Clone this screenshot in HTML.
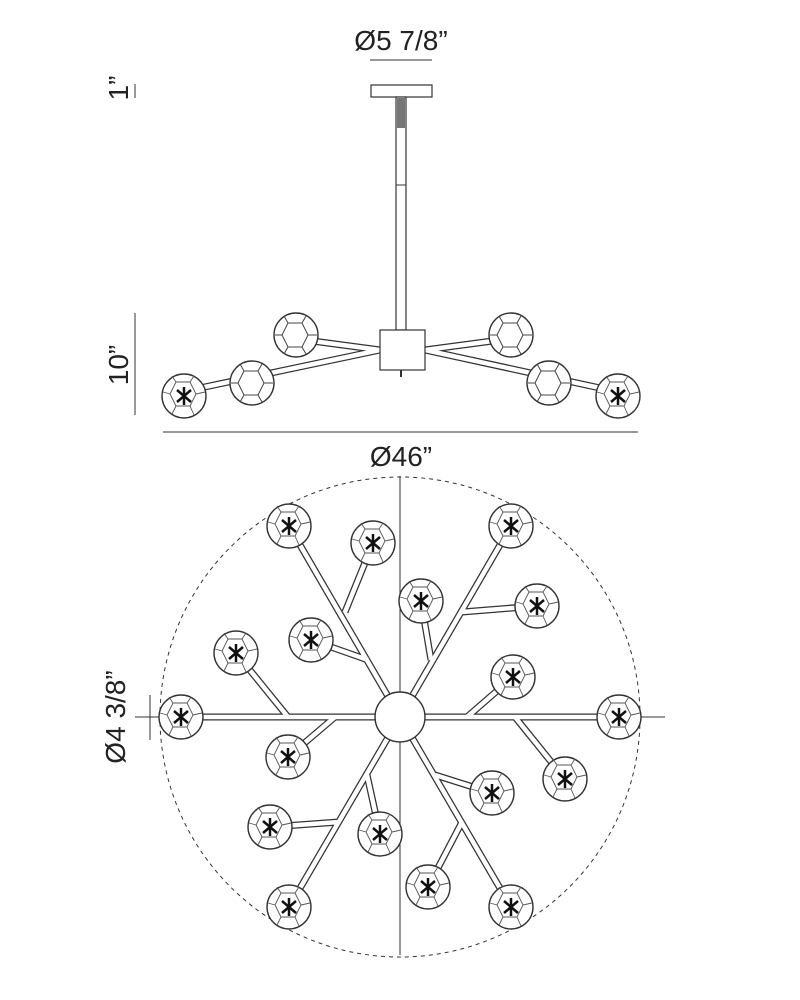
<!DOCTYPE html>
<html><head><meta charset="utf-8"><style>
html,body{margin:0;padding:0;background:#fff;}
svg{display:block;}
text{font-family:"Liberation Sans",sans-serif;fill:#222;}
</style></head><body>
<svg width="800" height="1000" viewBox="0 0 800 1000" xmlns="http://www.w3.org/2000/svg">
<defs>
<g id="globe">
 <circle r="22" fill="#fff" stroke="#333" stroke-width="1.4"/>
 <path d="M-8,-14 L6,-14 L12,-2 L6,10 L-8,10 L-14,-2 Z M-8,-14 L-12,-20 M6,-14 L10,-20 M12,-2 L21,-4 M6,10 L10,19 M-8,10 L-12,18 M-14,-2 L-21,-4" fill="none" stroke="#555" stroke-width="0.9"/>
 <g stroke="#111" stroke-width="2.5"><line x1="-7" y1="-6" x2="7" y2="6"/><line x1="-7" y1="6" x2="7" y2="-6"/><line x1="0" y1="-9" x2="0" y2="9"/></g>
</g>
<g id="gs">
 <circle r="22" fill="#fff" stroke="#333" stroke-width="1.4"/>
 <path d="M-8,-12 L6,-12 L12,0 L6,12 L-8,12 L-14,0 Z M-8,-12 L-12,-19 M6,-12 L10,-19 M12,0 L21,0 M6,12 L10,19 M-8,12 L-12,19 M-14,0 L-21,0" fill="none" stroke="#444" stroke-width="1"/>
</g>
</defs>

<!-- side view -->
<text x="401" y="50" font-size="28" text-anchor="middle">Ø5 7/8”</text>
<line x1="370" y1="60" x2="432" y2="60" stroke="#333" stroke-width="1"/>
<text transform="translate(128,88) rotate(-90)" font-size="28" text-anchor="middle">1”</text>
<line x1="135" y1="84" x2="135" y2="98" stroke="#333"/>
<rect x="371" y="85" width="61" height="12" fill="#fff" stroke="#333" stroke-width="1.2"/>
<rect x="396" y="97" width="10" height="233" fill="#fff" stroke="#333" stroke-width="1.2"/>
<line x1="396" y1="185" x2="406" y2="185" stroke="#333"/>
<rect x="397" y="98" width="8" height="30" fill="#777"/>
<!-- arms side -->
<g stroke="#333" stroke-width="7" stroke-linecap="butt">
<line x1="380" y1="350" x2="200" y2="388"/><line x1="425" y1="350" x2="600" y2="388"/>
<line x1="380" y1="350" x2="305" y2="340"/><line x1="425" y1="350" x2="500" y2="340"/>
</g>
<g stroke="#fff" stroke-width="4.5">
<line x1="380" y1="350" x2="200" y2="388"/><line x1="425" y1="350" x2="600" y2="388"/>
<line x1="380" y1="350" x2="305" y2="340"/><line x1="425" y1="350" x2="500" y2="340"/>
</g>
<rect x="380" y="330" width="45" height="40" fill="#fff" stroke="#333" stroke-width="1.2"/>
<line x1="401" y1="370" x2="401" y2="377" stroke="#333" stroke-width="2"/>
<use href="#gs" x="296" y="335"/><use href="#gs" x="511" y="335"/>
<use href="#gs" x="252" y="383"/><use href="#gs" x="549" y="383"/>
<use href="#globe" x="184" y="396"/><use href="#globe" x="618" y="396"/>
<text transform="translate(128,365) rotate(-90)" font-size="28" text-anchor="middle">10”</text>
<line x1="135" y1="313" x2="135" y2="415" stroke="#333"/>
<line x1="163" y1="432" x2="638" y2="432" stroke="#333"/>
<text x="401" y="466" font-size="28" text-anchor="middle">Ø46”</text>

<!-- plan view -->
<circle cx="400" cy="717" r="240" fill="none" stroke="#333" stroke-width="1" stroke-dasharray="4,4"/>
<line x1="400" y1="476" x2="400" y2="955" stroke="#333"/>
<line x1="135" y1="717" x2="665" y2="717" stroke="#333"/>
<text transform="translate(125,717) rotate(-90)" font-size="28" text-anchor="middle">Ø4 3/8”</text>
<line x1="150" y1="695" x2="150" y2="740" stroke="#333"/>
<g id="arms" stroke-linecap="butt">
<g stroke="#333" stroke-width="7">
<line x1="400" y1="717" x2="289" y2="526"/><line x1="400" y1="717" x2="511" y2="526"/>
<line x1="400" y1="717" x2="181" y2="717"/><line x1="400" y1="717" x2="619" y2="717"/>
<line x1="400" y1="717" x2="289" y2="907"/><line x1="400" y1="717" x2="511" y2="907"/>
<line x1="373" y1="543" x2="345" y2="612"/><line x1="421" y1="601" x2="431" y2="660"/>
<line x1="537" y1="606" x2="462" y2="612"/><line x1="311" y1="640" x2="368" y2="660"/>
<line x1="236" y1="653" x2="288" y2="717"/><line x1="513" y1="677" x2="467" y2="717"/>
<line x1="288" y1="757" x2="335" y2="717"/><line x1="565" y1="779" x2="515" y2="717"/>
<line x1="492" y1="793" x2="435" y2="775"/><line x1="270" y1="827" x2="339" y2="822"/>
<line x1="380" y1="834" x2="367" y2="775"/><line x1="428" y1="887" x2="462" y2="822"/>
</g>
<g stroke="#fff" stroke-width="4.5">
<line x1="400" y1="717" x2="289" y2="526"/><line x1="400" y1="717" x2="511" y2="526"/>
<line x1="400" y1="717" x2="181" y2="717"/><line x1="400" y1="717" x2="619" y2="717"/>
<line x1="400" y1="717" x2="289" y2="907"/><line x1="400" y1="717" x2="511" y2="907"/>
<line x1="373" y1="543" x2="345" y2="612"/><line x1="421" y1="601" x2="431" y2="660"/>
<line x1="537" y1="606" x2="462" y2="612"/><line x1="311" y1="640" x2="368" y2="660"/>
<line x1="236" y1="653" x2="288" y2="717"/><line x1="513" y1="677" x2="467" y2="717"/>
<line x1="288" y1="757" x2="335" y2="717"/><line x1="565" y1="779" x2="515" y2="717"/>
<line x1="492" y1="793" x2="435" y2="775"/><line x1="270" y1="827" x2="339" y2="822"/>
<line x1="380" y1="834" x2="367" y2="775"/><line x1="428" y1="887" x2="462" y2="822"/>
</g>
</g>
<line x1="400" y1="690" x2="400" y2="745" stroke="#333"/>
<circle cx="400" cy="717" r="25" fill="#fff" stroke="#333" stroke-width="1.4"/>
<use href="#globe" x="289" y="526"/><use href="#globe" x="373" y="543"/><use href="#globe" x="511" y="526"/>
<use href="#globe" x="537" y="606"/><use href="#globe" x="421" y="601"/><use href="#globe" x="311" y="640"/>
<use href="#globe" x="236" y="653"/><use href="#globe" x="513" y="677"/><use href="#globe" x="181" y="717"/>
<use href="#globe" x="619" y="717"/><use href="#globe" x="288" y="757"/><use href="#globe" x="565" y="779"/>
<use href="#globe" x="492" y="793"/><use href="#globe" x="270" y="827"/><use href="#globe" x="380" y="834"/>
<use href="#globe" x="428" y="887"/><use href="#globe" x="289" y="907"/><use href="#globe" x="511" y="907"/>
</svg>
</body></html>
